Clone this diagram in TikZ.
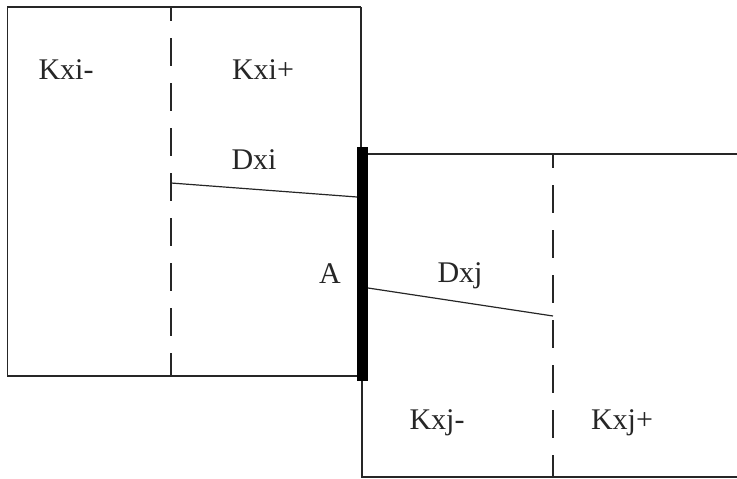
\documentclass[tikz,border=0pt]{standalone}
\usepackage{fontspec}
\setmainfont{Liberation Serif}
\begin{document}
\begin{tikzpicture}[x=1pt,y=-1pt,
  edge/.style={line width=1.3pt,black!85},
  split/.style={line width=1.3pt,black!85,dash pattern=on 28pt off 17pt,dash phase=14pt},
  joint/.style={line width=11pt,black},
  lbl/.style={font=\fontsize{30}{36}\selectfont,text=black!85,inner sep=0pt}]
\useasboundingbox (0,0) rectangle (737,479);
% block i
\coordinate (iTL) at (7.5,7);
\coordinate (iTR) at (361,7);
\coordinate (iBR) at (361,376);
\coordinate (iBL) at (7.5,376);
\draw[edge] (iTR) -- (iTL) -- (iBL) -- (iBR);
\draw[edge] (iTR) -- (361,148);
\coordinate (iDt) at (171,7);
\coordinate (iDb) at (171,376);
\draw[split] (iDt) -- (iDb);
% block j
\coordinate (jTL) at (362,154);
\coordinate (jTR) at (737,154);
\coordinate (jBL) at (362,477);
\coordinate (jBR) at (737,477);
\draw[edge] (jTR) -- (jTL);
\draw[edge] (362,380) -- (jBL) -- (jBR);
\coordinate (jDt) at (553,154);
\coordinate (jDb) at (553,477);
\draw[split] (jDt) -- (jDb);
% contact face A
\coordinate (At) at (362.5,147);
\coordinate (Ab) at (362.5,381);
\draw[joint] (At) -- (Ab);
% distances to the contact
\coordinate (dxiS) at (171,183);
\coordinate (dxiE) at (357,197);
\draw[edge,line width=1.2pt] (dxiS) -- (dxiE);
\coordinate (dxjS) at (368,288);
\coordinate (dxjE) at (553,316);
\draw[edge,line width=1.2pt] (dxjS) -- (dxjE);
% labels
\node[lbl] (kxim) at (66,70) {Kxi-};
\node[lbl] (kxip) at (263,70) {Kxi+};
\node[lbl] (dxi) at (254,160) {Dxi};
\node[lbl] (a) at (330,274) {A};
\node[lbl] (dxj) at (460,276) {Dxj};
\node[lbl] (kxjm) at (437,423) {Kxj-};
\node[lbl] (kxjp) at (622,423) {Kxj+};
\end{tikzpicture}
\end{document}
